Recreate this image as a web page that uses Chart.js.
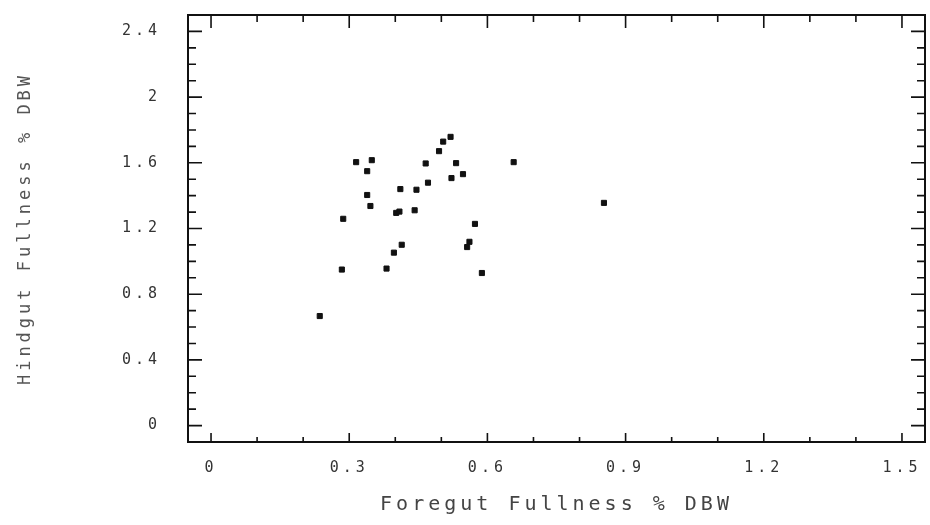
<!DOCTYPE html>
<html>
<head>
<meta charset="utf-8">
<script src="https://cdn.jsdelivr.net/npm/chart.js@4/dist/chart.umd.min.js"></script>
<style>
  html, body { margin: 0; padding: 0; background: #fff; }
  #wrap { width: 930px; height: 525px; }
</style>
</head>
<body>
<div id="wrap"><canvas id="gutChart" width="930" height="525"></canvas></div>
<script>
// Foregut vs hindgut fullness (% dry body weight)
const foregut = [0.520, 0.504, 0.495, 0.315, 0.349, 0.466, 0.532, 0.339, 0.547, 0.522,
                 0.471, 0.411, 0.446, 0.339, 0.346, 0.402, 0.409, 0.442, 0.287, 0.573,
                 0.561, 0.556, 0.414, 0.397, 0.284, 0.381, 0.588, 0.236, 0.657, 0.853];
const hindgut = [1.758, 1.729, 1.671, 1.604, 1.616, 1.596, 1.598, 1.549, 1.531, 1.507,
                 1.479, 1.440, 1.436, 1.404, 1.337, 1.295, 1.303, 1.311, 1.259, 1.228,
                 1.119, 1.087, 1.101, 1.053, 0.950, 0.956, 0.929, 0.667, 1.604, 1.356];

const xTickLabels = [0, 0.3, 0.6, 0.9, 1.2, 1.5];
const yTickLabels = [0, 0.4, 0.8, 1.2, 1.6, 2, 2.4];

const points = foregut.map((x, i) => ({ x: x, y: hindgut[i] }));

// frame + inward tick marks on all four sides, like the plotter output
const framePlugin = {
    id: 'frame',
    beforeDraw(chart) {
        chart.ctx.letterSpacing = '4px';
    },
    afterDraw(chart) {
        const ctx = chart.ctx;
        const a = chart.chartArea;
        const xs = chart.scales.x, ys = chart.scales.y;
        ctx.save();
        ctx.letterSpacing = '0px';
        ctx.strokeStyle = '#111';
        ctx.lineWidth = 2;
        ctx.strokeRect(a.left, a.top, a.right - a.left, a.bottom - a.top);
        ctx.lineWidth = 1.6;
        ctx.beginPath();
        for (let i = 0; i <= 15; i++) {
            const px = xs.getPixelForValue(i / 10);
            const len = (i % 3 === 0) ? 9 : 5;
            ctx.moveTo(px, a.bottom); ctx.lineTo(px, a.bottom - len);
            const lenTop = (i % 3 === 0) ? 13 : 7;
            ctx.moveTo(px, a.top); ctx.lineTo(px, a.top + lenTop);
        }
        for (let j = 0; j <= 24; j++) {
            const py = ys.getPixelForValue(j / 10);
            const len = (j % 4 === 0) ? 14 : 8;
            ctx.moveTo(a.left, py); ctx.lineTo(a.left + len, py);
            ctx.moveTo(a.right, py); ctx.lineTo(a.right - len, py);
        }
        ctx.stroke();
        ctx.restore();
    }
};

const monoFont = 'DejaVu Sans Mono';

function noEdgePadding(scale) {
    scale.paddingTop = 0;
    scale.paddingBottom = 0;
    scale.paddingLeft = 0;
    scale.paddingRight = 0;
}

new Chart(document.getElementById('gutChart').getContext('2d'), {
    type: 'scatter',
    data: {
        datasets: [{
            data: points,
            pointStyle: 'rect',
            pointRadius: 3.6,
            pointBackgroundColor: '#111',
            pointBorderColor: '#111',
            pointBorderWidth: 1
        }]
    },
    options: {
        responsive: false,
        animation: false,
        layout: { padding: { top: 15, right: 0, left: 0, bottom: 0 } },
        plugins: {
            legend: { display: false },
            tooltip: { enabled: false }
        },
        scales: {
            x: {
                type: 'linear',
                min: -0.05,
                max: 1.55,
                afterBuildTicks(scale) { scale.ticks = xTickLabels.map(v => ({ value: v })); },
                afterFit(scale) { scale.height = 83; noEdgePadding(scale); },
                grid: { display: false, drawTicks: false },
                border: { display: false },
                ticks: {
                    padding: 17,
                    color: '#333',
                    font: { family: monoFont, size: 15 },
                    maxRotation: 0,
                    callback: v => String(v)
                },
                title: {
                    display: true,
                    text: 'Foregut Fullness % DBW',
                    color: '#444',
                    font: { family: monoFont, size: 20 },
                    padding: { top: 0, bottom: 8 }
                }
            },
            y: {
                type: 'linear',
                min: -0.1,
                max: 2.5,
                afterBuildTicks(scale) { scale.ticks = yTickLabels.map(v => ({ value: v })); },
                afterFit(scale) { scale.width = 188; noEdgePadding(scale); },
                grid: { display: false, drawTicks: false },
                border: { display: false },
                ticks: {
                    padding: 27,
                    color: '#333',
                    font: { family: monoFont, size: 15 },
                    callback: v => String(v)
                },
                title: {
                    display: true,
                    text: 'Hindgut Fullness % DBW',
                    color: '#555',
                    font: { family: monoFont, size: 17 },
                    padding: { top: 15, bottom: 0 }
                }
            }
        }
    },
    plugins: [framePlugin]
});
</script>
</body>
</html>
